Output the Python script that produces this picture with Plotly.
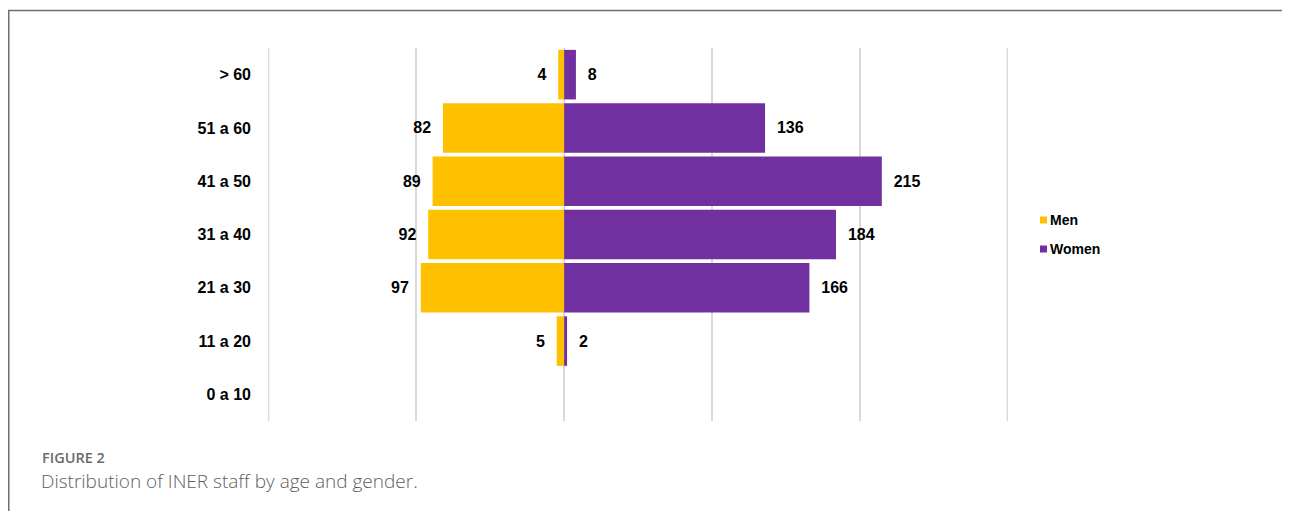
import plotly.graph_objects as go

age_groups = ["0 a 10", "11 a 20", "21 a 30", "31 a 40", "41 a 50", "51 a 60", "> 60"]
men = [None, 5, 97, 92, 89, 82, 4]
women = [None, 2, 166, 184, 215, 136, 8]
grid_values = [-200, -100, 0, 100, 200, 300]

men_color = "#FFC000"
women_color = "#7030A0"

OFF = 8  # page body margin
W, H = 1290 - OFF, 511 - OFF
# plot area in page pixels
L, R, T, B = 268, 1008, 48, 421

def px(x):
    return (x - L) / (R - L)

def py(y):
    return (B - y) / (B - T)

PAD = "\u00a0\u00a0"
label_font = dict(family="Liberation Sans, Arial", size=16, color="#000000", weight="bold")

fig = go.Figure()
fig.add_trace(go.Bar(
    y=age_groups, x=[-v if v is not None else None for v in men],
    orientation="h", name="Men", marker=dict(color=men_color, line=dict(width=0)),
    text=[(str(v) + PAD) if v is not None else "" for v in men], textposition="outside",
    textfont=label_font, cliponaxis=False, showlegend=False,
))
fig.add_trace(go.Bar(
    y=age_groups, x=women,
    orientation="h", name="Women", marker=dict(color=women_color, line=dict(width=0)),
    text=[(PAD + str(v)) if v is not None else "" for v in women], textposition="outside",
    textfont=label_font, cliponaxis=False, showlegend=False,
))

fig.update_layout(
    width=W, height=H,
    margin=dict(l=L - OFF, r=W - (R - OFF), t=T - OFF, b=H - (B - OFF), autoexpand=False),
    barmode="relative", bargap=0.07,
    plot_bgcolor="white", paper_bgcolor="white",
    font=dict(family="Liberation Sans, Arial", color="#000000"),
    showlegend=False,
    xaxis=dict(range=[-200.4, 300.4], tickvals=grid_values, showticklabels=False,
               showgrid=True, gridcolor="#D9D9D9", gridwidth=1.5,
               zeroline=True, zerolinecolor="#D9D9D9", zerolinewidth=1.5,
               showline=False, fixedrange=True),
    yaxis=dict(categoryorder="array", categoryarray=age_groups,
               tickfont=dict(size=16, weight="bold", color="#000000"),
               ticklabelstandoff=16, showgrid=False, zeroline=False, showline=False),
)

# edge grid lines (plotly skips grid lines at the plot edges)
for gv in (grid_values[0], grid_values[-1]):
    fig.add_shape(type="line", xref="x", yref="paper", x0=gv, x1=gv, y0=0, y1=1,
                  line=dict(color="#D9D9D9", width=1.5), layer="below")

# frame (top and left lines)
fig.add_shape(type="line", xref="paper", yref="paper",
              x0=px(8), x1=px(1300), y0=py(10.5), y1=py(10.5),
              line=dict(color="#6E6E6E", width=1.5))
fig.add_shape(type="line", xref="paper", yref="paper",
              x0=px(8.75), x1=px(8.75), y0=py(10), y1=py(530),
              line=dict(color="#6E6E6E", width=1.5))

# legend
legend_items = [("Men", men_color, 220), ("Women", women_color, 249)]
for name, color, yc in legend_items:
    fig.add_shape(type="rect", xref="paper", yref="paper",
                  x0=px(1040), x1=px(1047), y0=py(yc - 3.5), y1=py(yc + 3.5),
                  fillcolor=color, line=dict(width=0))
    fig.add_annotation(xref="paper", yref="paper", x=px(1047.5), y=py(yc),
                       xanchor="left", yanchor="middle", showarrow=False, text=name,
                       font=dict(family="Liberation Sans, Arial", size=14, weight="bold", color="#000000"))

fig.add_annotation(xref="paper", yref="paper", x=px(40), y=py(457.5),
                   xanchor="left", yanchor="middle", showarrow=False,
                   text="FIGURE 2",
                   font=dict(family="Open Sans, Lato", size=14.5, color="#6B6B6B", weight=600))
fig.add_annotation(xref="paper", yref="paper", x=px(39), y=py(480.5),
                   xanchor="left", yanchor="middle", showarrow=False,
                   text="Distribution of INER staff by age and gender.",
                   font=dict(family="Open Sans, Lato", size=19, color="#5E5E5E", weight=300))

fig.write_html("out.html")
